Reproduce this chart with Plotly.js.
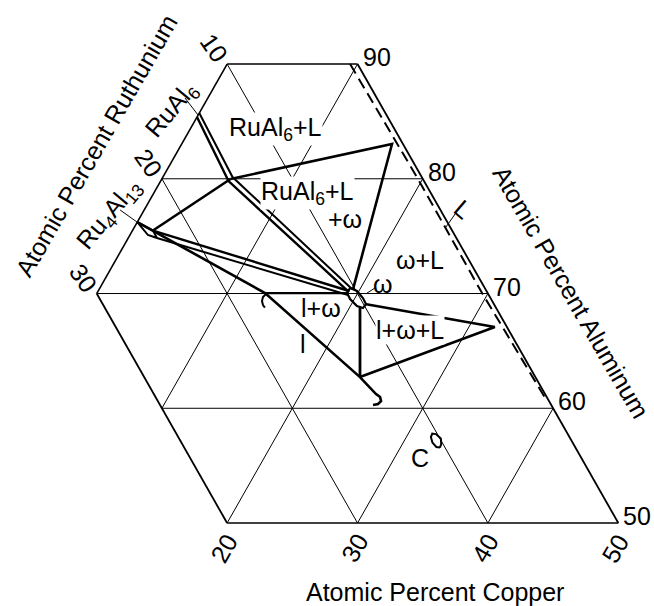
<!DOCTYPE html>
<html>
<head>
<meta charset="utf-8">
<script src="https://cdn.plot.ly/plotly-3.0.1.min.js"></script>
<style>
  html, body { margin: 0; padding: 0; background: #ffffff; }
  #chart { width: 654px; height: 606px; }
</style>
</head>
<body>
<div id="chart"></div>
<script>
// Al-Cu-Ru partial isothermal section. Compositions in at.%: Al and Cu given, Ru = 100 - Al - Cu.
const alTicks = [90, 80, 70, 60, 50];
const cuTicks = [20, 30, 40, 50];
const ruTicks = [10, 20, 30];

// RuAl6 homogeneity band, continued as the narrow RuAl6 + omega strip
const ruAl6LowerAl = [85.38, 79.80, 70.13];
const ruAl6LowerCu = [0.00, 5.21, 19.28];
const ruAl6UpperAl = [85.73, 80.15, 70.39];
const ruAl6UpperCu = [0.00, 5.34, 19.38];

// Ru4Al13 homogeneity sliver
const ru4Al13Al = [76.23, 75.49, 74.84, 75.10, 76.23];
const ru4Al13Cu = [0.00, 1.57, 2.20, 1.38, 0.00];

// Ru4Al13 - RuAl6 tie line
const tieRu4RuAl6Al = [75.49, 79.98];
const tieRu4RuAl6Cu = [1.57, 5.27];

// Ru4Al13 + omega narrow strip
const ru4OmegaUpperAl = [75.49, 70.22];
const ru4OmegaUpperCu = [1.57, 19.24];
const ru4OmegaLowerAl = [74.84, 69.87];
const ru4OmegaLowerCu = [2.20, 19.34];

// Ru4Al13 tie line and the l phase line with its end hook
const lPhaseAl = [76.23, 70.04, 62.72, 61.24, 60.98, 60.63, 60.37, 60.28];
const lPhaseCu = [0.00, 12.89, 23.83, 25.80, 26.24, 26.49, 26.39, 26.05];
// opening bracket at the upper end of the l phase
const lStartAl = [69.96, 69.70, 69.35, 69.00, 68.78];
const lStartCu = [13.00, 12.90, 13.00, 13.25, 13.51];
// l + omega upper boundary
const lOmegaAl = [70.04, 70.04];
const lOmegaCu = [12.89, 19.18];

// omega phase field
const omegaAl = [70.48, 70.22, 69.61, 69.08, 68.74, 68.91, 69.52, 70.04, 70.48];
const omegaCu = [19.19, 19.85, 20.61, 21.11, 21.05, 20.50, 19.67, 19.18, 19.19];

// RuAl6 + L + omega tie triangle
const triRuAl6Al = [79.98, 83.03, 70.39];
const triRuAl6Cu = [5.27, 16.13, 19.46];

// l + omega + L tie triangle and omega / l boundary
const triLAl = [69.08, 67.08, 62.72];
const triLCu = [21.03, 31.99, 23.83];
const omegaLAl = [68.74, 62.72];
const omegaLCu = [20.82, 23.83];

// C phase field
const cPhaseAl = [56.58, 56.88, 57.36, 57.75, 57.80, 57.49, 57.01, 56.63, 56.58];
const cPhaseCu = [33.03, 32.98, 32.71, 32.14, 31.83, 31.88, 32.24, 32.73, 33.03];

// liquidus (L) boundary
const liquidusAl = [90.00, 79.98, 70.04, 60.63];
const liquidusCu = [9.43, 19.65, 29.53, 39.22];

// Section limits
const AL_MIN = 50, AL_MAX = 90, RU_MAX = 30;

// Projection of a composition onto the plane: x = Cu - Ru, y = Al
function proj(al, cu) {
  return { x: al.map((a, i) => cu[i] - (100 - a - cu[i])), y: al.slice() };
}

const FONT = 'Liberation Sans, Arial, Helvetica, sans-serif';
const traces = [];

function addLine(al, cu, width, dash) {
  const p = proj(al, cu);
  traces.push({
    type: 'scatter', mode: 'lines', x: p.x, y: p.y,
    line: { color: '#000', width: width, dash: dash || 'solid' },
    hoverinfo: 'skip', showlegend: false
  });
}

// Grid: Al, Ru and Cu isopleths clipped to the section
const gridAl = [90, 80, 70, 60, 50];
gridAl.forEach(a => {
  const ruHi = Math.min(RU_MAX, 100 - a);
  addLine([a, a], [100 - a, 100 - a - ruHi], (a === AL_MIN || a === AL_MAX) ? 1.6 : 1);
});
const gridRu = [0, 10, 20, 30];
gridRu.forEach(r => {
  const aHi = Math.min(AL_MAX, 100 - r);
  addLine([aHi, AL_MIN], [100 - aHi - r, 100 - AL_MIN - r], (r === 0 || r === RU_MAX) ? 1.8 : 1);
});
const gridCu = [0, 10, 20, 30, 40];
gridCu.forEach(c => {
  const aHi = Math.min(AL_MAX, 100 - c);
  const aLo = Math.max(AL_MIN, 100 - RU_MAX - c);
  addLine([aHi, aLo], [c, c], c === 0 ? 1.6 : 1);
});

// Phase boundaries
const W = 2.6;
addLine(ruAl6LowerAl, ruAl6LowerCu, 2.4);
addLine(ruAl6UpperAl, ruAl6UpperCu, 2);
addLine(ru4Al13Al, ru4Al13Cu, 2);
addLine(tieRu4RuAl6Al, tieRu4RuAl6Cu, W);
addLine(ru4OmegaUpperAl, ru4OmegaUpperCu, 2.4);
addLine(ru4OmegaLowerAl, ru4OmegaLowerCu, 2);
addLine(lPhaseAl, lPhaseCu, W);
addLine(lStartAl, lStartCu, 2);
addLine(lOmegaAl, lOmegaCu, 2.2);
addLine(omegaAl, omegaCu, 2.2);
addLine(triRuAl6Al, triRuAl6Cu, W);
addLine(triLAl, triLCu, W);
addLine(omegaLAl, omegaLCu, 2.8);
addLine(cPhaseAl, cPhaseCu, 2);
addLine(liquidusAl, liquidusCu, 2, '11px,6px');

// Annotations
const ann = [];
const SIZE = 25;
function label(x, y, text, extra) {
  ann.push(Object.assign({
    x: x, y: y, xref: 'x', yref: 'y', text: text, showarrow: false,
    xanchor: 'center', yanchor: 'middle',
    font: { family: FONT, size: SIZE, color: '#000' }
  }, extra || {}));
}

// axis tick numbers
alTicks.forEach(a => {
  const p = proj([a], [100 - a]);
  label(p.x[0], p.y[0], String(a), { xanchor: 'left', xshift: 3, yshift: 7 });
});
cuTicks.forEach(c => {
  const p = proj([AL_MIN], [c]);
  label(p.x[0], p.y[0], String(c), { textangle: -60, xshift: -3, yshift: -25 });
});
ruTicks.forEach(r => {
  const p = proj([100 - r], [0]);
  label(p.x[0], p.y[0], String(r), { textangle: 55, xshift: -13, yshift: 16 });
});

// phase field labels (positions in plane coordinates)
const bgMask = { bgcolor: '#ffffff', borderpad: 0 };
label(-2.65, 84.34, 'RuAl<sub>6</sub>+L', bgMask);
label(2.33, 78.72, 'RuAl<sub>6</sub>+L', bgMask);
label(8.08, 76.49, '+ω');
label(19.59, 72.92, 'ω+L');
label(13.91, 70.83, 'ω');
label(4.40, 68.78, 'l+ω');
label(1.64, 65.64, 'l');
label(17.98, 66.82, 'l+ω+L', bgMask);
label(19.59, 55.71, 'C');
label(26.18, 77.36, 'L', { textangle: 40 });
label(-18.45, 85.99, 'RuAl<sub>6</sub>', { textangle: -50 });
label(-28.11, 76.84, 'Ru<sub>4</sub>Al<sub>13</sub>', { textangle: -50 });

// axis titles
const titleFont = { family: FONT, size: SIZE, color: '#000' };
function title(x, y, text, angle) {
  ann.push({ xref: 'paper', yref: 'paper', x: x, y: y, text: text, showarrow: false,
    xanchor: 'center', yanchor: 'middle', font: titleFont, textangle: angle });
}
title(0.665, 0.023, 'Atomic Percent Copper', 0);
title(0.147, 0.759, 'Atomic Percent Ruthunium', -60);
title(0.873, 0.518, 'Atomic Percent Aluminum', 60);

// leader lines for the compound and phase labels
const leader = (x0, y0, x1, y1) => ({ type: 'line', xref: 'x', yref: 'y', x0, y0, x1, y1,
  line: { color: '#000', width: 1 } });
const shapes = [
  leader(-16.46, 87.04, -14.46, 85.56),
  leader(-26.41, 77.28, -23.82, 76.23),
  leader(11.46, 70.04, 12.68, 70.48),
  leader(25.08, 77.02, 23.57, 75.80)
];

const layout = {
  width: 654, height: 606,
  margin: { l: 0, r: 0, t: 0, b: 0, pad: 0 },
  paper_bgcolor: '#ffffff', plot_bgcolor: '#ffffff',
  showlegend: false,
  xaxis: { range: [-44.83, 55.47], visible: false, fixedrange: true },
  yaxis: { range: [42.77, 95.58], visible: false, fixedrange: true },
  annotations: ann,
  shapes: shapes
};

Plotly.newPlot('chart', traces, layout, { staticPlot: true, displayModeBar: false });
</script>
</body>
</html>
